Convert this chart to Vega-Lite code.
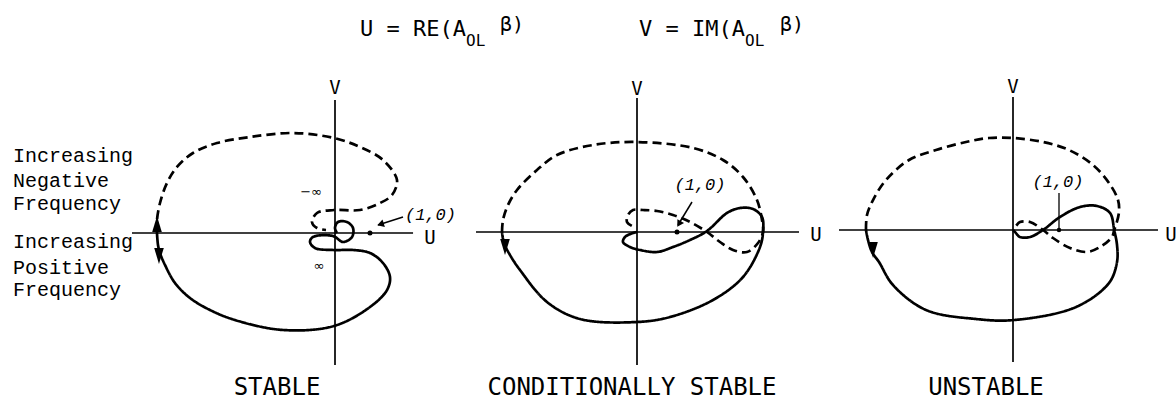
{
  "$schema": "https://vega.github.io/schema/vega-lite/v6.json",
  "background": "white",
  "padding": 0,
  "spacing": 0,
  "bounds": "flush",
  "config": {"view": {"stroke": null}},
  "datasets": {
    "p1axes": [{"u": -5.8, "v": 0, "u2": 2.23, "v2": 0}, {"u": 0, "v": 3.8, "u2": 0, "v2": -3.771}],
    "p2axes": [{"u": -4.025, "v": 0, "u2": 4.05, "v2": 0}, {"u": 0, "v": 3.35, "u2": 0, "v2": -3.325}],
    "p3axes": [{"u": -3.783, "v": 0, "u2": 3.152, "v2": 0}, {"u": 0, "v": 2.891, "u2": 0, "v2": -2.87}],
    "p1c": [
      {"b": "neg", "u": -5.086, "v": 0}, {"b": "neg", "u": -5.086, "v": 0.371}, {"b": "neg", "u": -5.0, "v": 0.857},
      {"b": "neg", "u": -4.8, "v": 1.429}, {"b": "neg", "u": -4.514, "v": 1.886}, {"b": "neg", "u": -4.057, "v": 2.286},
      {"b": "neg", "u": -3.371, "v": 2.571}, {"b": "neg", "u": -2.429, "v": 2.743}, {"b": "neg", "u": -1.2, "v": 2.857},
      {"b": "neg", "u": -0.029, "v": 2.714}, {"b": "neg", "u": 0.714, "v": 2.457}, {"b": "neg", "u": 1.371, "v": 2.086},
      {"b": "neg", "u": 1.771, "v": 1.514}, {"b": "neg", "u": 1.629, "v": 1.086}, {"b": "neg", "u": 1.286, "v": 0.857},
      {"b": "neg", "u": 0.714, "v": 0.657}, {"b": "neg", "u": -0.029, "v": 0.657}, {"b": "neg", "u": -0.514, "v": 0.571},
      {"b": "neg", "u": -0.657, "v": 0.314}, {"b": "neg", "u": -0.514, "v": 0.143}, {"b": "neg", "u": -0.257, "v": 0.086},
      {"b": "pos", "u": -5.086, "v": 0}, {"b": "pos", "u": -5.057, "v": -0.343}, {"b": "pos", "u": -5.0, "v": -0.571},
      {"b": "pos", "u": -4.857, "v": -0.914}, {"b": "pos", "u": -4.571, "v": -1.429}, {"b": "pos", "u": -4.143, "v": -1.857},
      {"b": "pos", "u": -3.571, "v": -2.2}, {"b": "pos", "u": -2.857, "v": -2.486}, {"b": "pos", "u": -1.486, "v": -2.771},
      {"b": "pos", "u": -0.029, "v": -2.657}, {"b": "pos", "u": 1.0, "v": -2.114}, {"b": "pos", "u": 1.486, "v": -1.629},
      {"b": "pos", "u": 1.571, "v": -1.257}, {"b": "pos", "u": 1.371, "v": -0.857}, {"b": "pos", "u": 1.0, "v": -0.571},
      {"b": "pos", "u": 0.514, "v": -0.486}, {"b": "pos", "u": -0.057, "v": -0.486}, {"b": "pos", "u": -0.571, "v": -0.429},
      {"b": "pos", "u": -0.714, "v": -0.257}, {"b": "pos", "u": -0.629, "v": -0.114}, {"b": "pos", "u": -0.057, "v": -0.086},
      {"b": "pos", "u": 0.229, "v": -0.257}, {"b": "pos", "u": 0.486, "v": -0.114}, {"b": "pos", "u": 0.514, "v": 0.143},
      {"b": "pos", "u": 0.343, "v": 0.314}, {"b": "pos", "u": 0.086, "v": 0.314}, {"b": "pos", "u": 0, "v": 0.143},
      {"b": "pos", "u": 0.057, "v": 0}
    ],
    "p2c": [
      {"b": "neg", "u": -3.375, "v": 0}, {"b": "neg", "u": -3.35, "v": 0.3}, {"b": "neg", "u": -3.225, "v": 0.675},
      {"b": "neg", "u": -3.0, "v": 1.05}, {"b": "neg", "u": -2.5, "v": 1.55}, {"b": "neg", "u": -2.0, "v": 1.925},
      {"b": "neg", "u": -1.1, "v": 2.175}, {"b": "neg", "u": 0, "v": 2.25}, {"b": "neg", "u": 1.4, "v": 2.1},
      {"b": "neg", "u": 2.15, "v": 1.8}, {"b": "neg", "u": 2.65, "v": 1.375}, {"b": "neg", "u": 3.0, "v": 0.8},
      {"b": "neg", "u": 3.125, "v": 0.3}, {"b": "neg", "u": 3.15, "v": 0}, {"b": "neg", "u": 3.025, "v": -0.275},
      {"b": "neg", "u": 2.75, "v": -0.5}, {"b": "neg", "u": 2.4, "v": -0.45}, {"b": "neg", "u": 2.075, "v": -0.25},
      {"b": "neg", "u": 1.75, "v": 0}, {"b": "neg", "u": 1.325, "v": 0.25}, {"b": "neg", "u": 0.9, "v": 0.425},
      {"b": "neg", "u": 0.5, "v": 0.525}, {"b": "neg", "u": 0.15, "v": 0.55}, {"b": "neg", "u": -0.1, "v": 0.55},
      {"b": "neg", "u": -0.225, "v": 0.425}, {"b": "neg", "u": -0.25, "v": 0.25}, {"b": "neg", "u": -0.125, "v": 0.15},
      {"b": "pos", "u": -3.375, "v": 0}, {"b": "pos", "u": -3.325, "v": -0.275}, {"b": "pos", "u": -3.175, "v": -0.575},
      {"b": "pos", "u": -2.925, "v": -0.95}, {"b": "pos", "u": -2.25, "v": -1.75}, {"b": "pos", "u": -1.425, "v": -2.175},
      {"b": "pos", "u": 0, "v": -2.25}, {"b": "pos", "u": 0.825, "v": -2.125}, {"b": "pos", "u": 1.9, "v": -1.7},
      {"b": "pos", "u": 2.65, "v": -1.125}, {"b": "pos", "u": 3.075, "v": -0.375}, {"b": "pos", "u": 3.15, "v": 0},
      {"b": "pos", "u": 3.125, "v": 0.375}, {"b": "pos", "u": 2.9, "v": 0.575}, {"b": "pos", "u": 2.575, "v": 0.6},
      {"b": "pos", "u": 2.25, "v": 0.475}, {"b": "pos", "u": 1.75, "v": 0.025}, {"b": "pos", "u": 1.325, "v": -0.2},
      {"b": "pos", "u": 0.9, "v": -0.375}, {"b": "pos", "u": 0.5, "v": -0.5}, {"b": "pos", "u": 0.075, "v": -0.45},
      {"b": "pos", "u": -0.175, "v": -0.375}, {"b": "pos", "u": -0.35, "v": -0.25}, {"b": "pos", "u": -0.3, "v": -0.125},
      {"b": "pos", "u": -0.1, "v": -0.025}, {"b": "pos", "u": 0, "v": 0}
    ],
    "p3c": [
      {"b": "neg", "u": -3.196, "v": 0}, {"b": "neg", "u": -3.174, "v": 0.326}, {"b": "neg", "u": -3.043, "v": 0.652},
      {"b": "neg", "u": -2.761, "v": 1.087}, {"b": "neg", "u": -2.261, "v": 1.522}, {"b": "neg", "u": -1.674, "v": 1.739},
      {"b": "neg", "u": -1.022, "v": 1.913}, {"b": "neg", "u": -0.522, "v": 2.0}, {"b": "neg", "u": 0, "v": 2.0},
      {"b": "neg", "u": 0.652, "v": 1.913}, {"b": "neg", "u": 1.217, "v": 1.739}, {"b": "neg", "u": 1.739, "v": 1.413},
      {"b": "neg", "u": 2.087, "v": 1.022}, {"b": "neg", "u": 2.283, "v": 0.652}, {"b": "neg", "u": 2.304, "v": 0.391},
      {"b": "neg", "u": 2.239, "v": 0.109}, {"b": "neg", "u": 2.2, "v": 0}, {"b": "neg", "u": 2.152, "v": -0.152},
      {"b": "neg", "u": 1.891, "v": -0.37}, {"b": "neg", "u": 1.609, "v": -0.478}, {"b": "neg", "u": 1.239, "v": -0.391},
      {"b": "neg", "u": 0.87, "v": -0.174}, {"b": "neg", "u": 0.652, "v": 0}, {"b": "neg", "u": 0.37, "v": 0.174},
      {"b": "neg", "u": 0.152, "v": 0.174}, {"b": "neg", "u": 0.065, "v": 0.087}, {"b": "neg", "u": 0, "v": 0},
      {"b": "pos", "u": -3.196, "v": 0}, {"b": "pos", "u": -3.152, "v": -0.217}, {"b": "pos", "u": -3.065, "v": -0.478},
      {"b": "pos", "u": -2.913, "v": -0.696}, {"b": "pos", "u": -2.609, "v": -1.196}, {"b": "pos", "u": -1.891, "v": -1.739},
      {"b": "pos", "u": -0.804, "v": -1.935}, {"b": "pos", "u": 0.022, "v": -1.957}, {"b": "pos", "u": 1.37, "v": -1.674},
      {"b": "pos", "u": 2.087, "v": -1.152}, {"b": "pos", "u": 2.261, "v": -0.696}, {"b": "pos", "u": 2.261, "v": -0.326},
      {"b": "pos", "u": 2.2, "v": 0}, {"b": "pos", "u": 2.109, "v": 0.37}, {"b": "pos", "u": 1.826, "v": 0.522},
      {"b": "pos", "u": 1.457, "v": 0.5}, {"b": "pos", "u": 1.022, "v": 0.283}, {"b": "pos", "u": 0.652, "v": 0},
      {"b": "pos", "u": 0.37, "v": -0.152}, {"b": "pos", "u": 0.152, "v": -0.152}, {"b": "pos", "u": 0.043, "v": -0.043},
      {"b": "pos", "u": 0, "v": 0}
    ],
    "p1arr": [{"u": -5.086, "v": 0.257, "dir": "up"}, {"u": -5.029, "v": -0.657, "dir": "down"}],
    "p2arr": [{"u": -3.3, "v": -0.375, "dir": "down"}],
    "p3arr": [{"u": -3.043, "v": -0.435, "dir": "down"}],
    "one": [{"u": 1, "v": 0}],
    "p1ptr": [{"u": 1.943, "v": 0.457, "u2": 1.229, "v2": 0.229}],
    "p2ptr": [{"u": 1.375, "v": 0.75, "u2": 1.025, "v2": 0.175}],
    "p3ptr": [{"u": 1.0, "v": 0.804, "u2": 1.0, "v2": 0}],
    "p1head": [{"u": 1.3, "v": 0.25}],
    "p2head": [{"u": 1.05, "v": 0.2}],
    "p1txt": [
      {"k": "axis", "t": "V", "u": 0, "v": 4.143},
      {"k": "axis", "t": "U", "u": 2.714, "v": -0.143},
      {"k": "cap", "t": "STABLE", "u": -1.657, "v": -4.429},
      {"k": "pt", "t": "(1,0)", "u": 2.0, "v": 0.514},
      {"k": "inf", "t": "−∞", "u": -0.686, "v": 1.171},
      {"k": "inf", "t": "∞", "u": -0.457, "v": -0.943},
      {"k": "side", "t": "Increasing", "u": -9.2, "v": 2.029},
      {"k": "side", "t": "Negative", "u": -9.2, "v": 1.314},
      {"k": "side", "t": "Frequency", "u": -9.2, "v": 0.657},
      {"k": "side", "t": "Increasing", "u": -9.2, "v": -0.429},
      {"k": "side", "t": "Positive", "u": -9.2, "v": -1.171},
      {"k": "side", "t": "Frequency", "u": -9.2, "v": -1.8},
      {"k": "t1", "t": "U = RE(A", "u": 0.714, "v": 5.629},
      {"k": "t2", "t": "OL", "u": 3.743, "v": 5.343},
      {"k": "t3", "t": "β)", "u": 4.714, "v": 5.771}
    ],
    "p2txt": [
      {"k": "axis", "t": "V", "u": 0, "v": 3.575},
      {"k": "axis", "t": "U", "u": 4.475, "v": -0.075},
      {"k": "cap", "t": "CONDITIONALLY STABLE", "u": -0.125, "v": -3.9},
      {"k": "pt", "t": "(1,0)", "u": 1.575, "v": 1.175},
      {"k": "t1", "t": "V = IM(A", "u": 0.05, "v": 4.9},
      {"k": "t2", "t": "OL", "u": 2.7, "v": 4.65},
      {"k": "t3", "t": "β)", "u": 3.575, "v": 5.025}
    ],
    "p3txt": [
      {"k": "axis", "t": "V", "u": 0, "v": 3.109},
      {"k": "axis", "t": "U", "u": 3.435, "v": -0.109},
      {"k": "cap", "t": "UNSTABLE", "u": -0.587, "v": -3.435},
      {"k": "pt", "t": "(1,0)", "u": 0.978, "v": 1.043}
    ]
  },
  "hconcat": [
    {
      "width": 440,
      "height": 403,
      "encoding": {
        "x": {"field": "u", "type": "quantitative", "axis": null, "scale": {"domain": [-9.5714, 3.0], "nice": false, "zero": false}},
        "y": {"field": "v", "type": "quantitative", "axis": null, "scale": {"domain": [-4.8571, 6.6571], "nice": false, "zero": false}}
      },
      "layer": [
        {"data": {"name": "p1axes"}, "mark": {"type": "rule", "color": "black", "strokeWidth": 1.7}, "encoding": {"x2": {"field": "u2"}, "y2": {"field": "v2"}}},
        {"data": {"name": "p1c"}, "mark": {"type": "line", "interpolate": "catmull-rom", "color": "black", "strokeWidth": 2.7},
         "encoding": {"strokeDash": {"field": "b", "type": "nominal", "scale": {"domain": ["neg", "pos"], "range": [[9, 5], [1, 0]]}, "legend": null}, "order": {"value": null}}},
        {"data": {"name": "p1arr"}, "mark": {"type": "point", "filled": true, "color": "black", "opacity": 1, "size": 256},
         "encoding": {"shape": {"field": "dir", "type": "nominal", "scale": {"domain": ["up", "down"], "range": ["M-0.6,1L0.6,1L0,-1Z", "M-0.6,-1L0.6,-1L0,1Z"]}, "legend": null}}},
        {"data": {"name": "one"}, "mark": {"type": "point", "shape": "circle", "filled": true, "color": "black", "opacity": 1, "size": 25}},
        {"data": {"name": "p1ptr"}, "mark": {"type": "rule", "color": "black", "strokeWidth": 1.5}, "encoding": {"x2": {"field": "u2"}, "y2": {"field": "v2"}}},
        {"data": {"name": "p1head"}, "mark": {"type": "point", "shape": "triangle-up", "angle": 252, "filled": true, "color": "black", "opacity": 1, "size": 60}},
        {"data": {"name": "p1txt"}, "transform": [{"filter": "datum.k == 'axis'"}], "mark": {"type": "text", "font": "DejaVu Sans Mono", "fontSize": 19, "align": "center", "baseline": "middle", "color": "black"}, "encoding": {"text": {"field": "t"}}},
        {"data": {"name": "p1txt"}, "transform": [{"filter": "datum.k == 'cap'"}], "mark": {"type": "text", "font": "DejaVu Sans Mono", "fontSize": 24, "align": "center", "baseline": "middle", "color": "black"}, "encoding": {"text": {"field": "t"}}},
        {"data": {"name": "p1txt"}, "transform": [{"filter": "datum.k == 'pt'"}], "mark": {"type": "text", "font": "Liberation Mono", "fontStyle": "italic", "fontSize": 17, "align": "left", "baseline": "middle", "color": "black"}, "encoding": {"text": {"field": "t"}}},
        {"data": {"name": "p1txt"}, "transform": [{"filter": "datum.k == 'inf'"}], "mark": {"type": "text", "font": "DejaVu Sans", "fontSize": 13, "align": "center", "baseline": "middle", "color": "black"}, "encoding": {"text": {"field": "t"}}},
        {"data": {"name": "p1txt"}, "transform": [{"filter": "datum.k == 'side'"}], "mark": {"type": "text", "font": "Liberation Mono", "fontSize": 20, "align": "left", "baseline": "alphabetic", "color": "black"}, "encoding": {"text": {"field": "t"}}},
        {"data": {"name": "p1txt"}, "transform": [{"filter": "datum.k == 't1'"}], "mark": {"type": "text", "font": "DejaVu Sans Mono", "fontSize": 22, "align": "left", "baseline": "alphabetic", "color": "black"}, "encoding": {"text": {"field": "t"}}},
        {"data": {"name": "p1txt"}, "transform": [{"filter": "datum.k == 't2'"}], "mark": {"type": "text", "font": "DejaVu Sans Mono", "fontSize": 16, "align": "left", "baseline": "alphabetic", "color": "black"}, "encoding": {"text": {"field": "t"}}},
        {"data": {"name": "p1txt"}, "transform": [{"filter": "datum.k == 't3'"}], "mark": {"type": "text", "font": "DejaVu Sans Mono", "fontSize": 20, "align": "left", "baseline": "alphabetic", "color": "black"}, "encoding": {"text": {"field": "t"}}}
      ]
    },
    {
      "width": 390,
      "height": 403,
      "encoding": {
        "x": {"field": "u", "type": "quantitative", "axis": null, "scale": {"domain": [-4.925, 4.825], "nice": false, "zero": false}},
        "y": {"field": "v", "type": "quantitative", "axis": null, "scale": {"domain": [-4.275, 5.8], "nice": false, "zero": false}}
      },
      "layer": [
        {"data": {"name": "p2axes"}, "mark": {"type": "rule", "color": "black", "strokeWidth": 1.7}, "encoding": {"x2": {"field": "u2"}, "y2": {"field": "v2"}}},
        {"data": {"name": "p2c"}, "mark": {"type": "line", "interpolate": "catmull-rom", "color": "black", "strokeWidth": 2.7},
         "encoding": {"strokeDash": {"field": "b", "type": "nominal", "scale": {"domain": ["neg", "pos"], "range": [[9, 5], [1, 0]]}, "legend": null}, "order": {"value": null}}},
        {"data": {"name": "p2arr"}, "mark": {"type": "point", "filled": true, "color": "black", "opacity": 1, "size": 256, "shape": "M-0.6,-1L0.6,-1L0,1Z"}},
        {"data": {"name": "one"}, "mark": {"type": "point", "shape": "circle", "filled": true, "color": "black", "opacity": 1, "size": 25}},
        {"data": {"name": "p2ptr"}, "mark": {"type": "rule", "color": "black", "strokeWidth": 1.5}, "encoding": {"x2": {"field": "u2"}, "y2": {"field": "v2"}}},
        {"data": {"name": "p2head"}, "mark": {"type": "point", "shape": "triangle-up", "angle": 211, "filled": true, "color": "black", "opacity": 1, "size": 60}},
        {"data": {"name": "p2txt"}, "transform": [{"filter": "datum.k == 'axis'"}], "mark": {"type": "text", "font": "DejaVu Sans Mono", "fontSize": 19, "align": "center", "baseline": "middle", "color": "black"}, "encoding": {"text": {"field": "t"}}},
        {"data": {"name": "p2txt"}, "transform": [{"filter": "datum.k == 'cap'"}], "mark": {"type": "text", "font": "DejaVu Sans Mono", "fontSize": 24, "align": "center", "baseline": "middle", "color": "black"}, "encoding": {"text": {"field": "t"}}},
        {"data": {"name": "p2txt"}, "transform": [{"filter": "datum.k == 'pt'"}], "mark": {"type": "text", "font": "Liberation Mono", "fontStyle": "italic", "fontSize": 17, "align": "center", "baseline": "middle", "color": "black"}, "encoding": {"text": {"field": "t"}}},
        {"data": {"name": "p2txt"}, "transform": [{"filter": "datum.k == 't1'"}], "mark": {"type": "text", "font": "DejaVu Sans Mono", "fontSize": 22, "align": "left", "baseline": "alphabetic", "color": "black"}, "encoding": {"text": {"field": "t"}}},
        {"data": {"name": "p2txt"}, "transform": [{"filter": "datum.k == 't2'"}], "mark": {"type": "text", "font": "DejaVu Sans Mono", "fontSize": 16, "align": "left", "baseline": "alphabetic", "color": "black"}, "encoding": {"text": {"field": "t"}}},
        {"data": {"name": "p2txt"}, "transform": [{"filter": "datum.k == 't3'"}], "mark": {"type": "text", "font": "DejaVu Sans Mono", "fontSize": 20, "align": "left", "baseline": "alphabetic", "color": "black"}, "encoding": {"text": {"field": "t"}}}
      ]
    },
    {
      "width": 346,
      "height": 403,
      "encoding": {
        "x": {"field": "u", "type": "quantitative", "axis": null, "scale": {"domain": [-3.9783, 3.5435], "nice": false, "zero": false}},
        "y": {"field": "v", "type": "quantitative", "axis": null, "scale": {"domain": [-3.7609, 5.0], "nice": false, "zero": false}}
      },
      "layer": [
        {"data": {"name": "p3axes"}, "mark": {"type": "rule", "color": "black", "strokeWidth": 1.7}, "encoding": {"x2": {"field": "u2"}, "y2": {"field": "v2"}}},
        {"data": {"name": "p3c"}, "mark": {"type": "line", "interpolate": "catmull-rom", "color": "black", "strokeWidth": 2.7},
         "encoding": {"strokeDash": {"field": "b", "type": "nominal", "scale": {"domain": ["neg", "pos"], "range": [[8, 5], [1, 0]]}, "legend": null}, "order": {"value": null}}},
        {"data": {"name": "p3arr"}, "mark": {"type": "point", "filled": true, "color": "black", "opacity": 1, "size": 256, "shape": "M-0.6,-1L0.6,-1L0,1Z"}},
        {"data": {"name": "one"}, "mark": {"type": "point", "shape": "circle", "filled": true, "color": "black", "opacity": 1, "size": 20}},
        {"data": {"name": "p3ptr"}, "mark": {"type": "rule", "color": "black", "strokeWidth": 1.3}, "encoding": {"x2": {"field": "u2"}, "y2": {"field": "v2"}}},
        {"data": {"name": "p3txt"}, "transform": [{"filter": "datum.k == 'axis'"}], "mark": {"type": "text", "font": "DejaVu Sans Mono", "fontSize": 19, "align": "center", "baseline": "middle", "color": "black"}, "encoding": {"text": {"field": "t"}}},
        {"data": {"name": "p3txt"}, "transform": [{"filter": "datum.k == 'cap'"}], "mark": {"type": "text", "font": "DejaVu Sans Mono", "fontSize": 24, "align": "center", "baseline": "middle", "color": "black"}, "encoding": {"text": {"field": "t"}}},
        {"data": {"name": "p3txt"}, "transform": [{"filter": "datum.k == 'pt'"}], "mark": {"type": "text", "font": "Liberation Mono", "fontStyle": "italic", "fontSize": 17, "align": "center", "baseline": "middle", "color": "black"}, "encoding": {"text": {"field": "t"}}}
      ]
    }
  ]
}
